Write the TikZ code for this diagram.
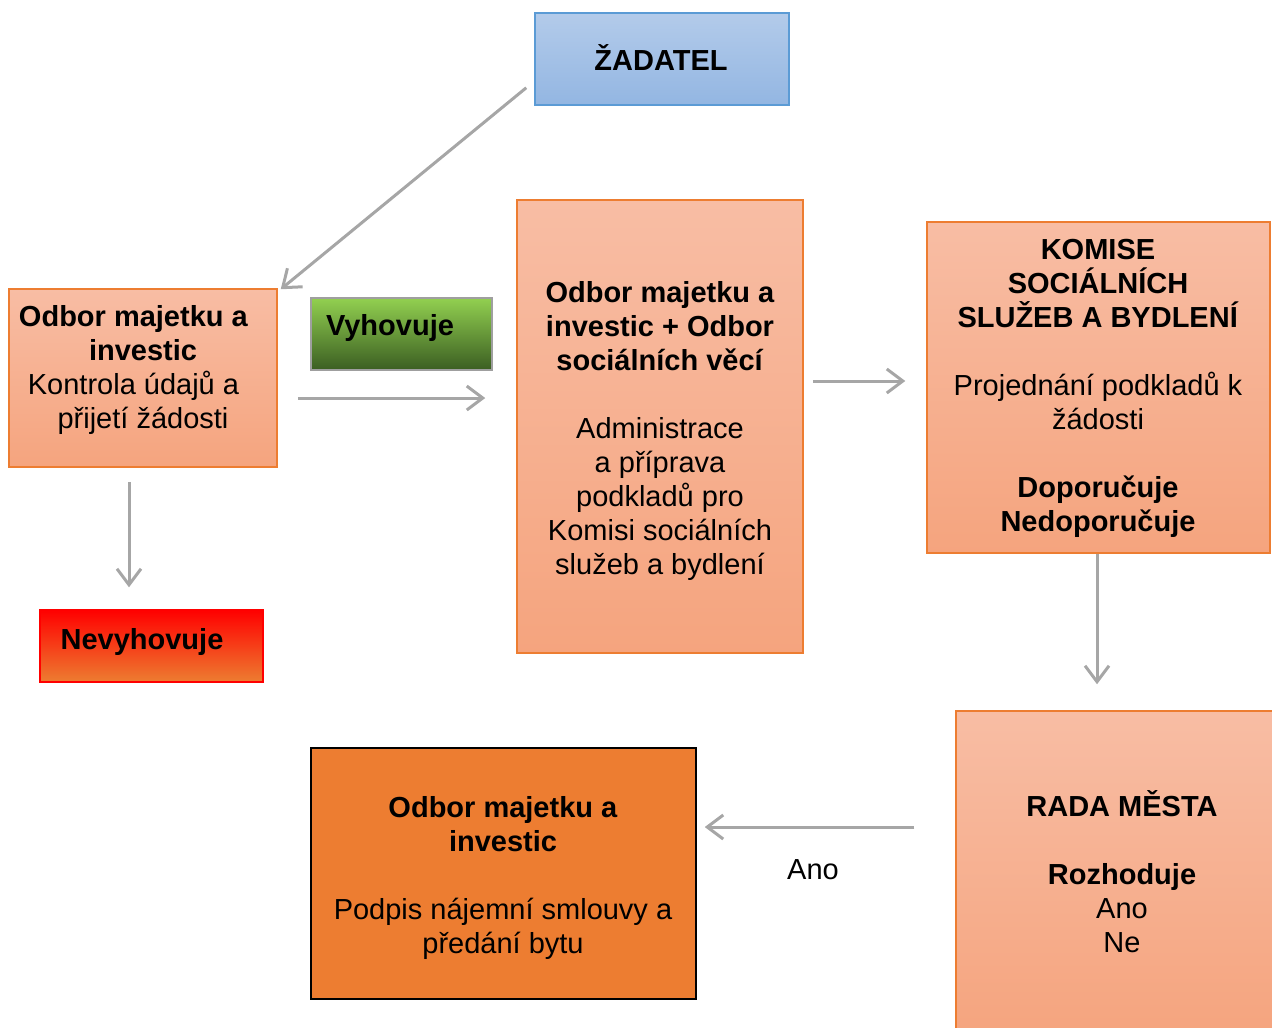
\documentclass[tikz,border=0pt]{standalone}
\usepackage{fontspec}
\setmainfont{Liberation Sans}
\usetikzlibrary{arrows.meta,calc}
\definecolor{salTop}{HTML}{F8BDA4}
\definecolor{salBot}{HTML}{F5A47E}
\definecolor{salLine}{HTML}{ED7D31}
\definecolor{bluTop}{HTML}{B3CBEA}
\definecolor{bluBot}{HTML}{93B6E2}
\definecolor{bluLine}{HTML}{5B9BD5}
\definecolor{grnTop}{HTML}{92D050}
\definecolor{grnBot}{HTML}{3B5E22}
\definecolor{arrGray}{HTML}{A6A6A6}
\definecolor{podpisFill}{HTML}{ED7D31}
\tikzset{
  txt/.style={align=center, inner sep=0pt, font=\fontsize{29}{34}\selectfont},
  salbox/.style={draw=salLine, line width=1.5pt, top color=salTop, bottom color=salBot},
  arr/.style={draw=arrGray, line width=3pt, -{Straight Barb[length=16pt,width=24pt]}}
}
\begin{document}
\begin{tikzpicture}[x=1pt, y=-1pt]
  \useasboundingbox (0,0) rectangle (1272,1028);
  % boxes
  \node[draw=bluLine, line width=1.5pt, top color=bluTop, bottom color=bluBot, minimum width=254pt, minimum height=92pt] (zadatel) at (662,59) {};
  \node[txt] (zadatelTxt) at (661,58) {\textbf{ŽADATEL}};

  \node[salbox, minimum width=268pt, minimum height=178pt] (kontrola) at (143,378) {};
  \node[txt] (kontrolaTxt) at (143,370) {\textbf{Odbor majetku a}\kern19pt\\ \textbf{investic}\\ Kontrola údajů a\kern19pt\\ přijetí žádosti};

  \node[draw=gray!75, line width=1.5pt, top color=grnTop, bottom color=grnBot, minimum width=181pt, minimum height=72pt] (vyhov) at (401.5,334) {};
  \node[txt] (vyhovTxt) at (390,328) {\textbf{Vyhovuje}};

  \node[draw=red, line width=1.5pt, top color=red, bottom color=salLine, minimum width=223pt, minimum height=72pt] (nevyhov) at (151.5,646) {};
  \node[txt] (nevyhovTxt) at (142,642) {\textbf{Nevyhovuje}};

  \node[salbox, minimum width=286pt, minimum height=453pt] (odbory) at (660,426.5) {};
  \node[txt] (odboryTxt) at (660,430.5) {\textbf{Odbor majetku a}\\ \textbf{investic + Odbor}\\ \textbf{sociálních věcí}\\[34pt]
    Administrace\\ a příprava\\ podkladů pro\\ Komisi sociálních\\ služeb a bydlení};

  \node[salbox, minimum width=343pt, minimum height=331pt] (komise) at (1098.5,387.5) {};
  \node[txt] (komiseTxt) at (1098,388.5) {\textbf{KOMISE}\\ \textbf{SOCIÁLNÍCH}\\ \textbf{SLUŽEB A BYDLENÍ}\\[34pt]
    Projednání podkladů k\\ žádosti\\[34pt] \textbf{Doporučuje}\\ \textbf{Nedoporučuje}};

  \node[salbox, minimum width=332pt, minimum height=326pt] (rada) at (1122,874) {};
  \node[txt] (radaTxt) at (1122,872) {\textbf{RADA MĚSTA}\\[34pt] \textbf{Rozhoduje}\\ Ano\\ Ne};

  \node[draw=black, line width=1.5pt, fill=podpisFill, minimum width=385pt, minimum height=251pt] (podpis) at (503.5,873.5) {};
  \node[txt] (podpisTxt) at (503,877.5) {\textbf{Odbor majetku a}\\ \textbf{investic}\\[34pt] Podpis nájemní smlouvy a\\ předání bytu};

  % connectors
  \draw[arr] ($(zadatel.south west)+(-8,-18)$) -- ($(kontrola.north east)+(3,1)$);
  \draw[arr] ($(kontrola.east)+(20,20)$) -- ($(kontrola.east -| odbory.west)+(-31,20)$);
  \draw[arr] ($(kontrola.south)+(-14,14)$) -- ($(kontrola.south |- nevyhov.north)+(-14,-22)$);
  \draw[arr] ($(odbory.east)+(9,-45.5)$) -- ($(odbory.east -| komise.west)+(-21,-45.5)$);
  \draw[arr] ($(komise.south)+(-1.5,0)$) -- ($(komise.south |- rada.north)+(-1.5,-26)$);
  \draw[arr] ($(rada.west)+(-41,-47)$) -- ($(podpis.east)+(8,-46.5)$);
  \node[txt] (ano) at (813,870) {Ano};
\end{tikzpicture}
\end{document}
